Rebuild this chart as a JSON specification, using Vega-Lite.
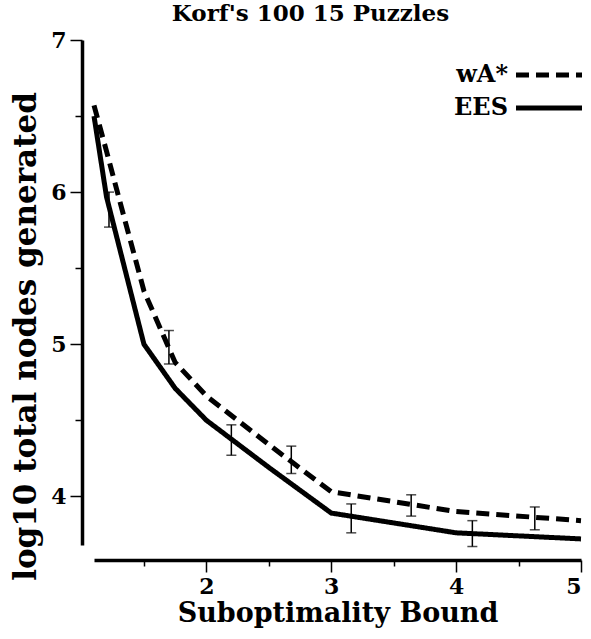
{
  "$schema": "https://vega.github.io/schema/vega-lite/v6.json",
  "width": 487,
  "height": 505,
  "padding": {"left": 10, "top": 3, "right": 0, "bottom": 5},
  "background": "white",
  "title": {"text": "Korf's 100 15 Puzzles", "font": "DejaVu Serif", "fontSize": 23, "fontWeight": "bold", "color": "black", "anchor": "middle", "dx": -27, "offset": 3},
  "config": {"view": {"stroke": null}},
  "datasets": {
    "lines": [
      {"bound": 1.1, "nodes": 6.57, "alg": "wA*"},
      {"bound": 1.2, "nodes": 6.27, "alg": "wA*"},
      {"bound": 1.3, "nodes": 5.96, "alg": "wA*"},
      {"bound": 1.5, "nodes": 5.35, "alg": "wA*"},
      {"bound": 1.75, "nodes": 4.88, "alg": "wA*"},
      {"bound": 2.0, "nodes": 4.66, "alg": "wA*"},
      {"bound": 2.5, "nodes": 4.34, "alg": "wA*"},
      {"bound": 3.0, "nodes": 4.03, "alg": "wA*"},
      {"bound": 4.0, "nodes": 3.90, "alg": "wA*"},
      {"bound": 5.0, "nodes": 3.84, "alg": "wA*"},
      {"bound": 1.1, "nodes": 6.50, "alg": "EES"},
      {"bound": 1.2, "nodes": 5.97, "alg": "EES"},
      {"bound": 1.5, "nodes": 5.00, "alg": "EES"},
      {"bound": 1.75, "nodes": 4.71, "alg": "EES"},
      {"bound": 2.0, "nodes": 4.50, "alg": "EES"},
      {"bound": 2.5, "nodes": 4.19, "alg": "EES"},
      {"bound": 3.0, "nodes": 3.89, "alg": "EES"},
      {"bound": 4.0, "nodes": 3.76, "alg": "EES"},
      {"bound": 5.0, "nodes": 3.72, "alg": "EES"}
    ],
    "bars": [
      {"bound": 1.22, "lo": 5.77, "hi": 6.0, "alg": "EES"},
      {"bound": 2.2, "lo": 4.27, "hi": 4.47, "alg": "EES"},
      {"bound": 3.16, "lo": 3.76, "hi": 3.95, "alg": "EES"},
      {"bound": 4.13, "lo": 3.67, "hi": 3.84, "alg": "EES"},
      {"bound": 1.70, "lo": 4.87, "hi": 5.09, "alg": "wA*"},
      {"bound": 2.68, "lo": 4.15, "hi": 4.33, "alg": "wA*"},
      {"bound": 3.64, "lo": 3.87, "hi": 4.01, "alg": "wA*"},
      {"bound": 4.63, "lo": 3.78, "hi": 3.93, "alg": "wA*"}
    ]
  },
  "layer": [
    {
      "data": {"name": "bars"},
      "mark": {"type": "errorbar", "color": "black", "ticks": {"size": 10, "thickness": 1.5, "color": "black"}, "rule": {"strokeWidth": 1.5, "color": "black"}},
      "encoding": {
        "x": {"field": "bound", "type": "quantitative", "title": "Suboptimality Bound"},
        "y": {"field": "lo", "type": "quantitative", "title": "log10 total nodes generated"},
        "y2": {"field": "hi"}
      }
    },
    {
      "data": {"name": "lines"},
      "mark": {"type": "line", "color": "black", "strokeWidth": 5, "strokeCap": "butt"},
      "encoding": {
        "x": {
          "field": "bound", "type": "quantitative", "title": "Suboptimality Bound",
          "scale": {"domain": [1.1, 5], "nice": false, "zero": false},
          "axis": {
            "values": [1.5, 2, 2.5, 3, 3.5, 4, 4.5, 5],
            "labelExpr": "datum.value % 1 === 0 ? format(datum.value, 'd') : ''",
            "tickSize": {"condition": {"test": "datum.value % 1 === 0", "value": 12}, "value": 6},
            "offset": 15, "grid": false,
            "domainWidth": 3.5, "domainColor": "black", "tickColor": "black", "tickWidth": 1.5,
            "labelFont": "DejaVu Serif", "labelFontSize": 22, "labelFontWeight": "bold", "labelColor": "black", "labelPadding": 4,
            "titleFont": "DejaVu Serif", "titleFontSize": 27, "titleFontWeight": "bold", "titleColor": "black", "titlePadding": 3
          }
        },
        "y": {
          "field": "nodes", "type": "quantitative", "title": "log10 total nodes generated",
          "scale": {"domain": [3.68, 7], "nice": false, "zero": false},
          "axis": {
            "values": [4, 4.5, 5, 5.5, 6, 6.5, 7],
            "labelExpr": "datum.value % 1 === 0 ? format(datum.value, 'd') : ''",
            "tickSize": {"condition": {"test": "datum.value % 1 === 0", "value": 12}, "value": 7},
            "offset": 12, "grid": false,
            "domainWidth": 3.5, "domainColor": "black", "tickColor": "black", "tickWidth": 1.5,
            "labelFont": "DejaVu Serif", "labelFontSize": 22, "labelFontWeight": "bold", "labelColor": "black", "labelPadding": 4,
            "titleFont": "DejaVu Serif", "titleFontSize": 31, "titleFontWeight": "bold", "titleColor": "black", "titlePadding": 8,
            "titleY": 296
          }
        },
        "strokeDash": {
          "field": "alg", "type": "nominal",
          "scale": {"domain": ["wA*", "EES"], "range": [[13, 7], [1, 0]]},
          "legend": {
            "orient": "none", "legendX": 436, "legendY": 16, "title": null, "padding": 0,
            "symbolType": "M-2,0H2", "symbolSize": 1089, "symbolStrokeWidth": 5, "symbolStrokeColor": "black",
            "labelAlign": "right", "labelOffset": -60,
            "labelFont": "DejaVu Serif", "labelFontSize": 24, "labelFontWeight": "bold", "labelColor": "black", "rowPadding": 2
          }
        }
      }
    }
  ]
}
